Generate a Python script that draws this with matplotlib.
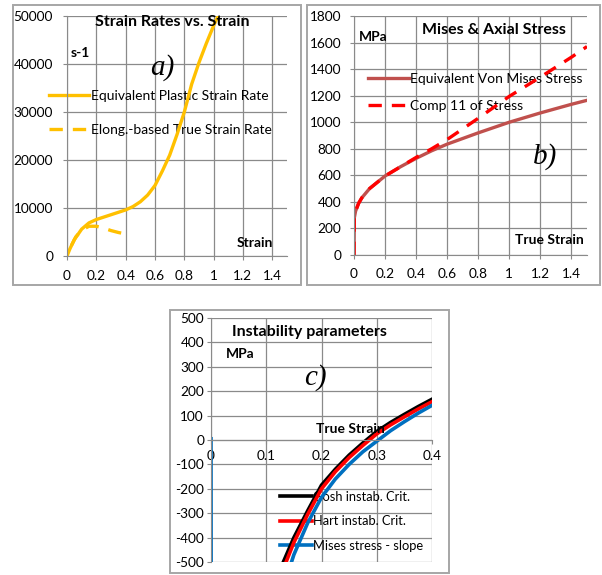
import matplotlib.pyplot as plt
from matplotlib.patches import Rectangle

W, H = 602, 575

# a) strain rates vs strain
a_strain = [0, 0.02, 0.05, 0.1, 0.15, 0.2, 0.3, 0.4, 0.45, 0.5, 0.55, 0.6, 0.65,
            0.7, 0.75, 0.8, 0.85, 0.9, 0.95, 1.0, 1.03]
a_plastic_rate = [0, 1500, 3400, 5600, 6900, 7600, 8600, 9600, 10300, 11300, 12700,
                  14700, 17700, 21000, 25300, 30000, 35800, 40300, 44300, 48000, 50000]
a_elong_strain = [0.03, 0.06, 0.1, 0.15, 0.2, 0.25, 0.3, 0.35, 0.43]
a_elong_rate = [2200, 4000, 5400, 6200, 6200, 5800, 5300, 4900, 4400]

# b) Mises & axial stress
b_strain = [0, 0.002, 0.01, 0.03, 0.05, 0.1, 0.2, 0.3, 0.4, 0.5, 0.6, 0.8, 1.0, 1.2, 1.4, 1.5]
b_mises = [0, 280, 330, 390, 430, 500, 595, 665, 728, 785, 835, 920, 1000, 1070, 1135, 1165]
b_comp11 = [0, 280, 330, 390, 430, 500, 595, 665, 735, 800, 870, 1030, 1195, 1340, 1490, 1570]

# c) instability parameters
c_gosh_x = [0.13, 0.15, 0.175, 0.2, 0.225, 0.25, 0.275, 0.3, 0.325, 0.35, 0.375, 0.4]
c_gosh_y = [-505, -400, -290, -185, -120, -62, -12, 35, 72, 105, 137, 167]
c_hart_x = [0.135, 0.15, 0.175, 0.2, 0.225, 0.25, 0.275, 0.3, 0.325, 0.35, 0.375, 0.4]
c_hart_y = [-505, -420, -305, -200, -130, -72, -22, 25, 62, 95, 127, 157]
c_mises_x = [0, 0.002, 0.145, 0.15, 0.175, 0.2, 0.225, 0.25, 0.275, 0.3, 0.325, 0.35, 0.375, 0.4]
c_mises_y = [5, -5000, -505, -470, -340, -235, -160, -100, -48, -5, 38, 75, 110, 142]

FONT = 'Lato'
GRID = '#8a8a8a'
plt.rcParams['font.family'] = [FONT, 'DejaVu Sans']
plt.rcParams['axes.unicode_minus'] = False

fig = plt.figure(figsize=(W / 100, H / 100), dpi=100)


def px_axes(x0, y0, x1, y1):
    return fig.add_axes([x0 / W, 1 - y1 / H, (x1 - x0) / W, (y1 - y0) / H])


def ftext(x, y, s, **kw):
    fig.text(x / W, 1 - y / H, s, ha='center', va='center', **kw)


def frame(x0, y0, x1, y1):
    fig.add_artist(Rectangle((x0 / W, 1 - y1 / H), (x1 - x0) / W, (y1 - y0) / H,
                             transform=fig.transFigure, fill=False, ec='#a6a6a6', lw=1.4))


def style(ax, pad=7):
    for s in ['top', 'right']:
        ax.spines[s].set_visible(False)
    for s in ['left', 'bottom']:
        ax.spines[s].set_color(GRID)
    ax.grid(True, color=GRID, lw=0.9)
    ax.set_axisbelow(True)
    ax.tick_params(length=3, color=GRID, labelsize=9.8, pad=pad)


def legend(ax, x, y, hl, spacing, size=10):
    lg = ax.legend(loc='upper left', bbox_to_anchor=(x / W, 1 - y / H),
                   bbox_transform=fig.transFigure, frameon=False, borderpad=0,
                   borderaxespad=0, handlelength=hl, handletextpad=0.1,
                   labelspacing=spacing, prop={'family': FONT, 'size': size})
    lg.set_zorder(1)
    return lg


# ---- panel a
frame(13, 5, 301, 285)
ax = px_axes(67, 16, 287, 256)
style(ax)
ax.plot(a_strain, a_plastic_rate, color='#FFC000', lw=2.4, label='Equivalent Plastic Strain Rate')
ax.plot(a_elong_strain, a_elong_rate, color='#FFC000', lw=2.4, dashes=(4, 3),
        label='Elong.-based True Strain Rate')
ax.set_xlim(0, 1.5)
ax.set_ylim(0, 50000)
ax.set_xticks([0, 0.2, 0.4, 0.6, 0.8, 1.0, 1.2, 1.4])
ax.set_xticklabels(['0', '0.2', '0.4', '0.6', '0.8', '1', '1.2', '1.4'])
ax.set_yticks(range(0, 50001, 10000))
legend(ax, 49, 90, 2.9, 1.6)
ftext(172, 22, 'Strain Rates vs. Strain', fontsize=11.5, fontweight='bold')
ftext(80, 53, 's-1', fontsize=10, fontweight='bold')
ftext(162, 68, 'a)', fontsize=21, family='Liberation Serif', style='italic')
ftext(255, 243, 'Strain', fontsize=10, fontweight='bold')

# ---- panel b
frame(307, 5, 600, 285)
ax = px_axes(354, 16, 587, 255)
style(ax, pad=6)
ax.plot(b_strain, b_mises, color='#C0504D', lw=2.4, label='Equivalent Von Mises Stress')
ax.plot(b_strain, b_comp11, color='#FF0000', lw=2.4, dashes=(4, 3), label='Comp 11 of Stress')
ax.set_xlim(0, 1.5)
ax.set_ylim(0, 1800)
ax.set_xticks([0, 0.2, 0.4, 0.6, 0.8, 1.0, 1.2, 1.4])
ax.set_xticklabels(['0', '0.2', '0.4', '0.6', '0.8', '1', '1.2', '1.4'])
ax.set_yticks(range(0, 1801, 200))
legend(ax, 368, 73, 2.95, 1.1)
ftext(494, 30, 'Mises & Axial Stress', fontsize=11.5, fontweight='bold')
ftext(373, 37, 'MPa', fontsize=10, fontweight='bold')
ftext(545, 157, 'b)', fontsize=21, family='Liberation Serif', style='italic')
ftext(549, 240, 'True Strain', fontsize=10, fontweight='bold')

# ---- panel c
frame(170, 310, 449, 573)
ax = px_axes(211, 318, 432, 562)
style(ax, pad=2)
ax.spines['bottom'].set_position(('data', 0))
ax.plot(c_gosh_x, c_gosh_y, color='black', lw=2.6, label='Gosh instab. Crit.')
ax.plot(c_hart_x, c_hart_y, color='#FF0000', lw=2.6, label='Hart instab. Crit.')
ax.plot(c_mises_x, c_mises_y, color='#0070C0', lw=2.6, label='Mises stress - slope')
ax.set_xlim(0, 0.4)
ax.set_ylim(-500, 500)
ax.set_xticks([0, 0.1, 0.2, 0.3, 0.4])
ax.set_xticklabels(['0', '0.1', '0.2', '0.3', '0.4'])
ax.set_yticks(range(-500, 501, 100))
ax.tick_params(axis='x', pad=4)
legend(ax, 280, 491, 2.45, 0.95, size=9.3)
ftext(309, 332, 'Instability parameters', fontsize=11.5, fontweight='bold')
ftext(240, 354, 'MPa', fontsize=10, fontweight='bold')
ftext(315, 378, 'c)', fontsize=21, family='Liberation Serif', style='italic')
ftext(350, 429, 'True Strain', fontsize=10, fontweight='bold')

fig.savefig('out.png', dpi=100)
